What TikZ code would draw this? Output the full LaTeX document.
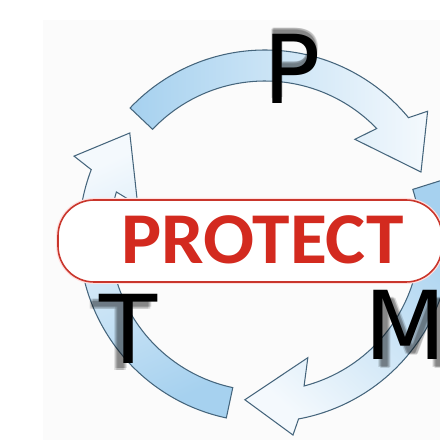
\documentclass[tikz,border=0pt]{standalone}
\usepackage{fontspec}
\newfontfamily\protfont{Carlito}
\newfontfamily\letterfont{DejaVu Sans}
\definecolor{ablue}{HTML}{A6D1EF}
\definecolor{awhite}{HTML}{F4F9FD}
\definecolor{aline}{HTML}{45657C}
\definecolor{pred}{HTML}{D32A1F}
\definecolor{bred}{HTML}{C9362C}
\definecolor{bgfaint}{HTML}{FBFBFB}
\tikzset{
  arrowshape/.style={draw=aline, line width=1.05pt, line join=miter},
  bigletter/.style={inner sep=0pt, anchor=base west, font=\letterfont\fontsize{95}{95}\selectfont},
  lettershadow/.style={bigletter, text=black, opacity=0.14},
}
\begin{document}
\begin{tikzpicture}[x=1pt,y=1pt]
\useasboundingbox (0,0) rectangle (440,440);
\clip (0,0) rectangle (440,440);
\fill[white] (0,0) rectangle (440,440);
\fill[bgfaint] (43,0) rectangle (440,420);
\begin{scope}[shift={(265,204)}]
  % P arrow (top)
  \path[arrowshape, left color=ablue, right color=awhite]
    (136.5:186) arc[start angle=136.5, end angle=39.5, radius=186]
    -- (37.5:205) -- (22.3:168.6) -- (47.1:132) -- (43.9:155)
    arc[start angle=43.9, end angle=136.5, radius=155] -- cycle;
  % T arrow (left)
  \path[arrowshape, top color=awhite, bottom color=ablue, shading angle=25]
    (258:186) arc[start angle=258, end angle=159.1, radius=186]
    -- (157.3:207) -- (142.7:170) -- (166.3:131) -- (163.5:155)
    arc[start angle=163.5, end angle=258, radius=155] -- cycle;
  % M arrow (right/bottom)
  \path[arrowshape, top color=awhite, bottom color=ablue, shading angle=138]
    (17.5:186) arc[start angle=17.5, end angle=-79.6, radius=186]
    -- (-82:201) -- (-97:165) -- (-70.6:129) -- (-75.4:155)
    arc[start angle=-75.4, end angle=17.5, radius=155] -- cycle;
\end{scope}
% PROTECT box
\draw[red!12, line width=4pt, rounded corners=36] (58,158) rectangle (442,240);
\draw[bred, fill=white, line width=1.6pt, rounded corners=36] (58,158) rectangle (442,240);
\node[inner sep=0pt, anchor=base, text=pred, xscale=1.035, font=\protfont\bfseries\fontsize{73}{73}\selectfont] (protect) at (262.5,176) {PROTECT};
% letter shadows
\foreach \dx/\dy in {-1/5,0/4,1/6,0/6} {\node[lettershadow] at (263+\dx,336+\dy) {P};}
\foreach \dx/\dy in {-8/-6,-7/-8,-9/-7,-6/-6} {\node[lettershadow] at (99+\dx,77+\dy) {T};}
\foreach \dx/\dy in {6/-7,7/-9,5/-8,8/-8} {\node[lettershadow] at (364+\dx,80+\dy) {M};}
% letters
\node[bigletter] (lp) at (263,336) {P};
\node[bigletter] (lt) at (99,77) {T};
\node[bigletter] (lm) at (364,80) {M};
\end{tikzpicture}
\end{document}
